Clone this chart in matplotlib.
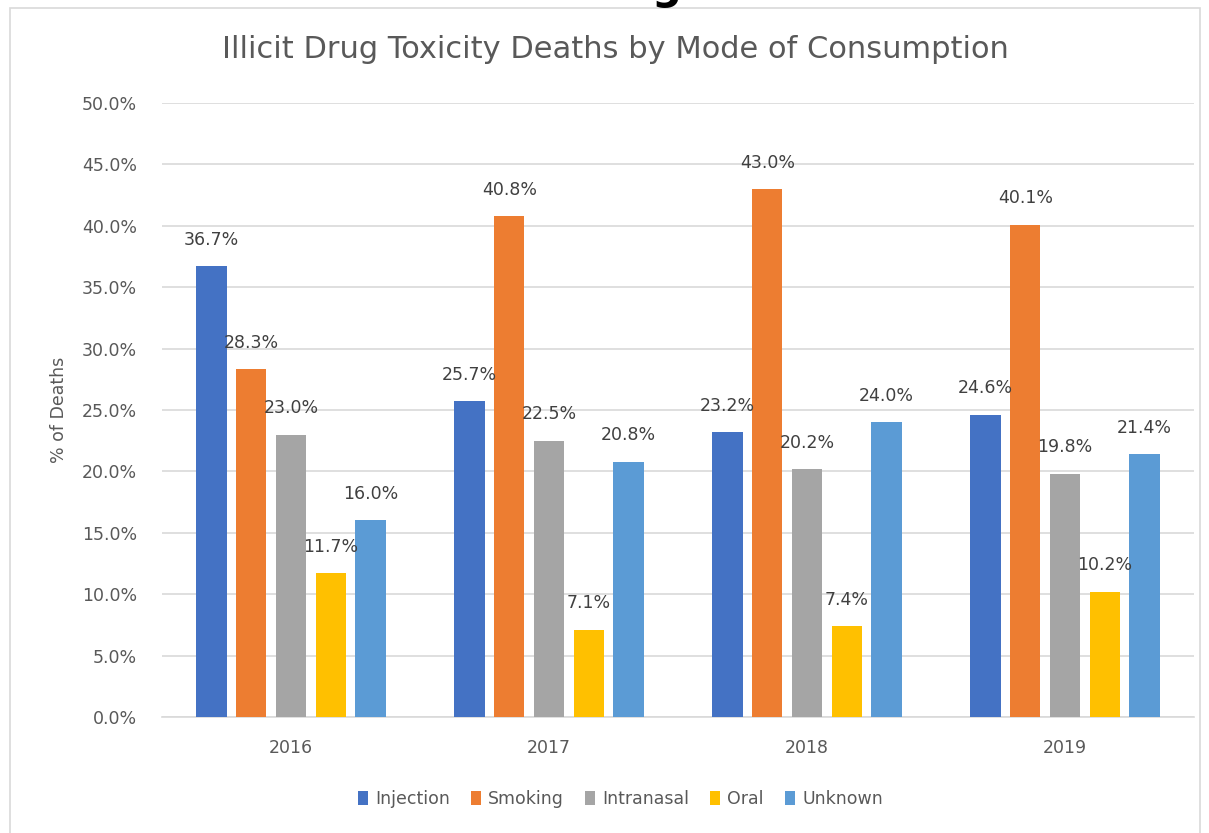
import numpy as np
import matplotlib
matplotlib.use('Agg')
import matplotlib.pyplot as plt
from matplotlib.patches import Rectangle

# Dados
anos = ['2016', '2017', '2018', '2019']
modos = ['Injection', 'Smoking', 'Intranasal', 'Oral', 'Unknown']
injection = [36.7, 25.7, 23.2, 24.6]
smoking = [28.3, 40.8, 43.0, 40.1]
intranasal = [23.0, 22.5, 20.2, 19.8]
oral = [11.7, 7.1, 7.4, 10.2]
unknown = [16.0, 20.8, 24.0, 21.4]
series = [injection, smoking, intranasal, oral, unknown]
cores = ['#4472C4', '#ED7D31', '#A5A5A5', '#FFC000', '#5B9BD5']

fonte = 'DejaVu Sans'
cor_texto = '#595959'

fig = plt.figure(figsize=(12.09, 8.33), dpi=100)
ax = fig.add_axes([162 / 1209, 0.1393, 1032 / 1209, 0.7371])

# borda da area do grafico
fig.patches.append(Rectangle((10 / 1209, -0.1), 1190 / 1209, 1.1 - 8 / 833,
                             transform=fig.transFigure, fill=False,
                             edgecolor='#D9D9D9', linewidth=1.2))

# pedaço do titulo do documento cortado no topo
fig.text(0.551, 1 + 1 / 833, 'g', fontsize=30, fontweight='bold',
         color='black', ha='center', va='baseline', family='DejaVu Sans')

x = np.arange(len(anos))
passo = 0.154
largura = 0.118
for i, (vals, cor, nome) in enumerate(zip(series, cores, modos)):
    pos = x + (i - 2) * passo
    ax.bar(pos, vals, width=largura, color=cor, label=nome, zorder=3)
    for p, v in zip(pos, vals):
        ax.annotate(f'{v:.1f}%', (p, v), xytext=(0, 19), textcoords='offset points',
                    ha='center', va='center', fontsize=12.5, color='#404040',
                    family=fonte, zorder=4)

ax.set_xlim(-0.5, 3.5)
ax.set_ylim(0, 50)
ax.set_yticks(np.arange(0, 50.1, 5))
ax.set_yticklabels([f'{t:.1f}%' for t in np.arange(0, 50.1, 5)])
ax.set_xticks(x)
ax.set_xticklabels(anos)
ax.grid(axis='y', color='#D9D9D9', linewidth=1.2, zorder=0)
for s in ['top', 'right', 'left']:
    ax.spines[s].set_visible(False)
ax.spines['bottom'].set_color('#D9D9D9')
ax.spines['bottom'].set_linewidth(1.2)
ax.tick_params(length=0, labelsize=12.5, labelcolor=cor_texto, pad=18)
ax.tick_params(axis='x', pad=16)
for lbl in ax.get_xticklabels() + ax.get_yticklabels():
    lbl.set_family(fonte)

ax.set_ylabel('% of Deaths', fontsize=12.5, color=cor_texto, family=fonte, labelpad=10)
fig.text(0.509, 0.94, 'Illicit Drug Toxicity Deaths by Mode of Consumption',
         ha='center', va='center', fontsize=22, color=cor_texto, family=fonte)

ax.legend(loc='center', bbox_to_anchor=(0.513, (833 - 799) / 833), bbox_transform=fig.transFigure,
          ncol=5, frameon=False, handlelength=0.6, handleheight=0.9, handletextpad=0.4,
          columnspacing=1.2, prop={'family': fonte, 'size': 12.5}, labelcolor=cor_texto)

plt.savefig('out.png', dpi=100)
